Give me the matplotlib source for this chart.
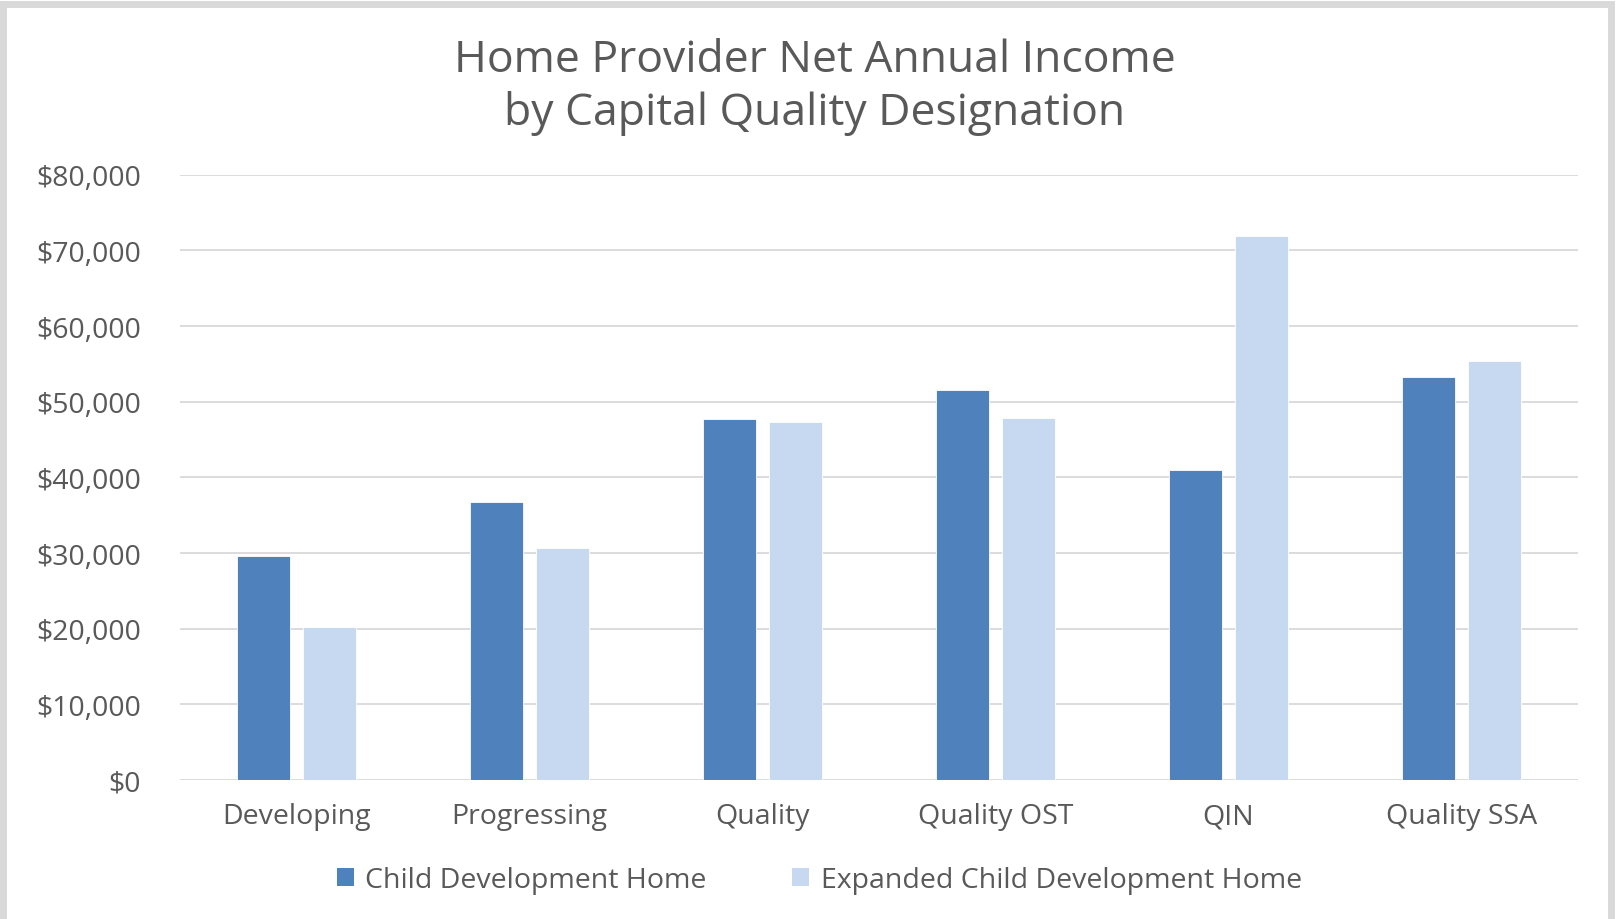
import numpy as np
import matplotlib
matplotlib.use("Agg")
import matplotlib.pyplot as plt
from matplotlib.patches import Rectangle, Patch
from matplotlib.ticker import FuncFormatter

categories = ["Developing", "Progressing", "Quality", "Quality OST", "QIN", "Quality SSA"]
cdh = [29600, 36700, 47700, 51600, 41000, 53200]
ecdh = [20200, 30700, 47300, 47900, 71900, 55400]
series_names = ["Child Development Home", "Expanded Child Development Home"]
yticks = [0, 10000, 20000, 30000, 40000, 50000, 60000, 70000, 80000]

DARK = "#4F81BD"
LIGHT = "#C6D9F0"
TEXT = "#595959"
GRID = "#D9D9D9"

plt.rcParams["font.family"] = ["Open Sans", "DejaVu Sans"]

fig = plt.figure(figsize=(16.16, 9.2), dpi=100)
ax = fig.add_axes([180 / 1616, 139 / 920, 1398 / 1616, 605.3 / 920])

x = np.arange(len(categories))
w = 0.226
gap = 0.058
ax.bar(x - (w + gap) / 2, cdh, w, color=DARK, edgecolor="white", linewidth=0.6, zorder=3)
ax.bar(x + (w + gap) / 2, ecdh, w, color=LIGHT, edgecolor="white", linewidth=0.6, zorder=3)

ax.set_xlim(-0.5, len(categories) - 0.5)
ax.set_ylim(0, 80000)
ax.set_yticks(yticks)
ax.yaxis.set_major_formatter(FuncFormatter(lambda v, p: f"${v:,.0f}"))
ax.set_xticks(x)
ax.set_xticklabels(categories)
ax.tick_params(axis="both", length=0, labelsize=20.5, colors=TEXT)
ax.tick_params(axis="y", pad=28)
ax.tick_params(axis="x", pad=16)
ax.grid(axis="y", color=GRID, linewidth=1.3, zorder=0)
for s in ax.spines.values():
    s.set_visible(False)

fig.text(0.504, 0.905, "Home Provider Net Annual Income\nby Capital Quality Designation",
         ha="center", va="center", fontsize=32, color=TEXT, linespacing=1.22)

handles = [Patch(facecolor=DARK), Patch(facecolor=LIGHT)]
fig.legend(handles, series_names, loc="center", bbox_to_anchor=(0.507, 0.042), ncol=2,
           frameon=False, fontsize=20.5, labelcolor=TEXT, handlelength=0.6, handleheight=0.6,
           handletextpad=0.4, columnspacing=3.0)

fig.patches.append(Rectangle((0.002, -0.01), 0.995, 1.005, transform=fig.transFigure,
                             fill=False, edgecolor=GRID, linewidth=5))

fig.savefig("out.png", dpi=100)
